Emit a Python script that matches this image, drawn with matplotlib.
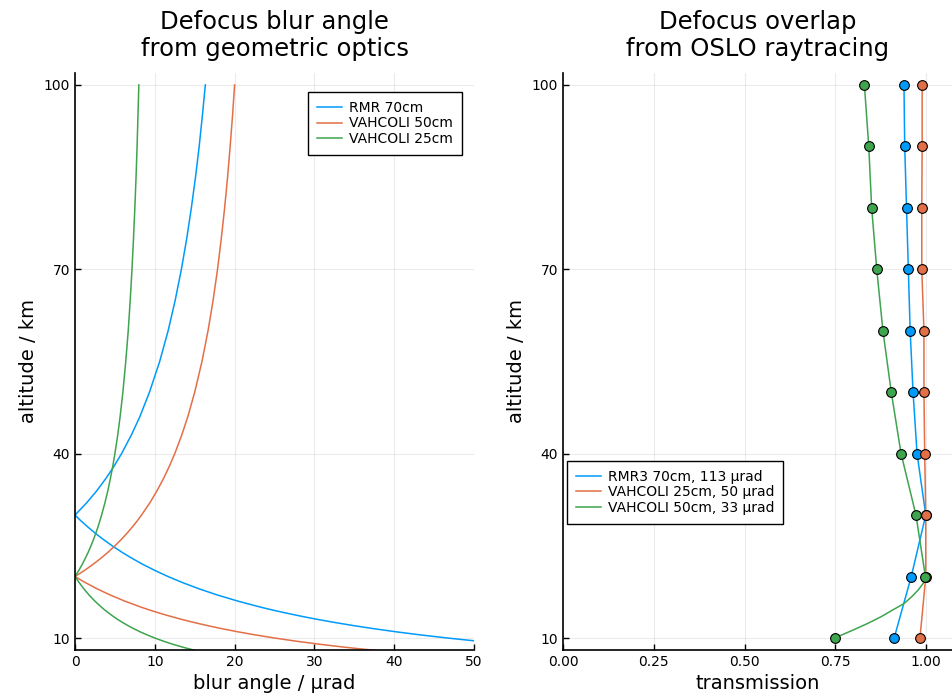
import matplotlib
matplotlib.use('Agg')
import matplotlib.pyplot as plt

# left panel: blur angle (µrad) vs altitude (km)
alt_geo = [8, 8.5, 9, 9.5, 10, 10.5, 11, 11.5, 12, 12.5, 13, 13.5, 14, 14.5, 15, 16, 17, 18, 19,
           20, 21, 22, 23, 24, 25, 26, 27, 28, 29, 30, 32, 34, 36, 38, 40, 43, 46, 50, 55,
           60, 65, 70, 75, 80, 85, 90, 95, 100]
blur_rmr70 = [64.17, 59.02, 54.44, 50.35, 46.67, 43.33, 40.30, 37.54, 35.00, 32.67, 30.51,
              28.52, 26.67, 24.94, 23.33, 20.42, 17.84, 15.56, 13.51, 11.67, 10.00, 8.48, 7.10,
              5.83, 4.67, 3.59, 2.59, 1.67, 0.80, 0.00, 1.46, 2.75, 3.89, 4.91, 5.83, 7.05,
              8.12, 9.33, 10.61, 11.67, 12.56, 13.33, 14.00, 14.58, 15.10, 15.56, 15.96, 16.33]
blur_vah50 = [37.50, 33.82, 30.56, 27.63, 25.00, 22.62, 20.45, 18.48, 16.67, 15.00, 13.46,
              12.04, 10.71, 9.48, 8.33, 6.25, 4.41, 2.78, 1.32, 0.00, 1.19, 2.27, 3.26, 4.17,
              5.00, 5.77, 6.48, 7.14, 7.76, 8.33, 9.38, 10.29, 11.11, 11.84, 12.50, 13.37,
              14.13, 15.00, 15.91, 16.67, 17.31, 17.86, 18.33, 18.75, 19.12, 19.44, 19.74, 20.00]
blur_vah25 = [15.00, 13.53, 12.22, 11.05, 10.00, 9.05, 8.18, 7.39, 6.67, 6.00, 5.38, 4.81,
              4.29, 3.79, 3.33, 2.50, 1.76, 1.11, 0.53, 0.00, 0.48, 0.91, 1.30, 1.67, 2.00,
              2.31, 2.59, 2.86, 3.10, 3.33, 3.75, 4.12, 4.44, 4.74, 5.00, 5.35, 5.65, 6.00,
              6.36, 6.67, 6.92, 7.14, 7.33, 7.50, 7.65, 7.78, 7.89, 8.00]

# right panel: transmission at the OSLO altitudes
alt_osl = [10, 20, 30, 40, 50, 60, 70, 80, 90, 100]
tr_rmr3 = [0.912, 0.959, 0.999, 0.975, 0.964, 0.956, 0.951, 0.946, 0.941, 0.939]
tr_vah25 = [0.983, 0.999, 0.999, 0.996, 0.994, 0.994, 0.988, 0.988, 0.989, 0.989]
tr_vah50 = [0.748, 0.998, 0.972, 0.931, 0.904, 0.881, 0.864, 0.850, 0.842, 0.830]

# finer green curve between 10 and 20 km
alt_vah50_line = [10, 11.3, 12.4, 13.5, 14.6, 15.6, 16.7, 17.8, 18.9, 20, 30, 40, 50, 60, 70,
                  80, 90, 100]
tr_vah50_line = [0.748, 0.799, 0.840, 0.877, 0.909, 0.939, 0.960, 0.978, 0.992, 0.998, 0.972,
                 0.931, 0.904, 0.881, 0.864, 0.850, 0.842, 0.830]

c1 = '#009AFA'
c2 = '#E36F47'
c3 = '#3EA44E'

fig = plt.figure(figsize=(9.53, 6.99), dpi=100)
ax1 = fig.add_axes([0.0787, 0.0701, 0.4187, 0.8255])
ax2 = fig.add_axes([0.5908, 0.0701, 0.4092, 0.8255])


def style(ax):
    for s in ['top', 'right']:
        ax.spines[s].set_visible(False)
    for s in ['left', 'bottom']:
        ax.spines[s].set_linewidth(1.2)
    ax.tick_params(direction='in', length=4, width=1, labelsize=10)
    ax.grid(True, color='#000000', alpha=0.08, linewidth=0.8)
    ax.set_axisbelow(True)
    ax.set_ylim(8.05, 101.95)
    ax.set_yticks([10, 40, 70, 100])
    ax.set_ylabel('altitude / km', fontsize=14)


def legend(ax, loc, anchor):
    leg = ax.legend(loc=loc, bbox_to_anchor=anchor, fontsize=10, borderaxespad=0,
                    fancybox=False, edgecolor='black', framealpha=1,
                    handlelength=1.8, labelspacing=0.1, borderpad=0.65, handletextpad=0.5)
    leg.get_frame().set_linewidth(1.0)


ax1.plot(blur_rmr70, alt_geo, c=c1, lw=1.1, label='RMR 70cm')
ax1.plot(blur_vah50, alt_geo, c=c2, lw=1.1, label='VAHCOLI 50cm')
ax1.plot(blur_vah25, alt_geo, c=c3, lw=1.1, label='VAHCOLI 25cm')
style(ax1)
ax1.set_xlim(0, 50)
ax1.set_xticks([0, 10, 20, 30, 40, 50])
ax1.set_xlabel('blur angle / µrad', fontsize=14)
ax1.set_title('Defocus blur angle\nfrom geometric optics', fontsize=17.5, pad=12)
legend(ax1, 'upper right', (0.97, 0.967))

ax2.plot(tr_rmr3, alt_osl, c=c1, lw=1.1, label='RMR3 70cm, 113 µrad')
ax2.plot(tr_vah25, alt_osl, c=c2, lw=1.1, label='VAHCOLI 25cm, 50 µrad')
ax2.plot(tr_vah50_line, alt_vah50_line, c=c3, lw=1.1, label='VAHCOLI 50cm, 33 µrad')
ax2.plot(tr_rmr3, alt_osl, 'o', c=c1, ms=7, mec='black', mew=0.8)
ax2.plot(tr_vah25, alt_osl, 'o', c=c2, ms=7, mec='black', mew=0.8)
ax2.plot(tr_vah50, alt_osl, 'o', c=c3, ms=7, mec='black', mew=0.8)
style(ax2)
ax2.set_xlim(0, 1.074)
ax2.set_xticks([0, 0.25, 0.5, 0.75, 1.0])
ax2.set_xticklabels(['0.00', '0.25', '0.50', '0.75', '1.00'])
ax2.set_xlabel('transmission', fontsize=14)
ax2.set_title('Defocus overlap\nfrom OSLO raytracing', fontsize=17.5, pad=12)
legend(ax2, 'upper left', (0.01, 0.328))

plt.savefig('out.png', dpi=100)
